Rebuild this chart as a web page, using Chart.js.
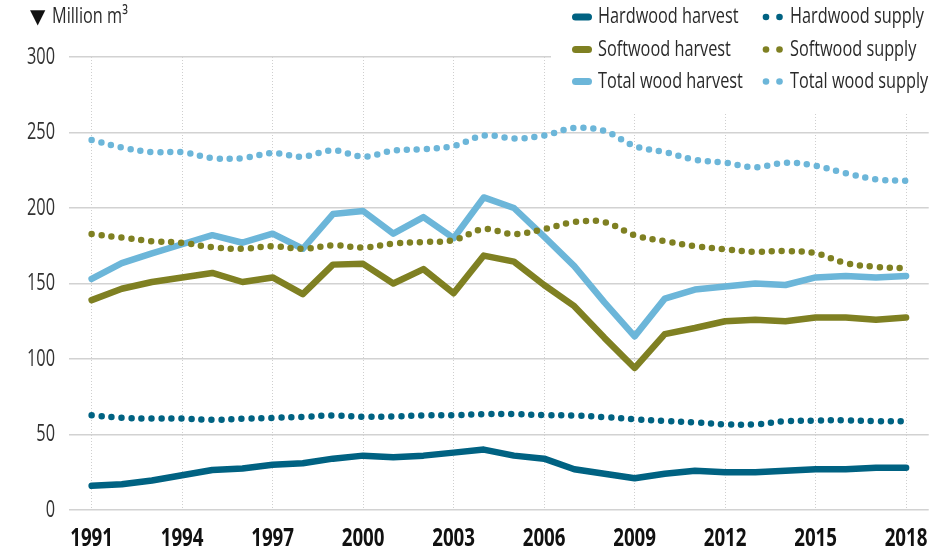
<!DOCTYPE html>
<html>
<head>
<meta charset="utf-8">
<script src="https://cdn.jsdelivr.net/npm/chart.js@4.4.1/dist/chart.umd.min.js"></script>
<style>
  html, body { margin: 0; padding: 0; background: #ffffff; }
  #wrap { width: 949px; height: 556px; position: relative; }
</style>
</head>
<body>
<div id="wrap"><canvas id="c" width="949" height="556"></canvas></div>
<script>
// ---- data ----
const years = [1991,1992,1993,1994,1995,1996,1997,1998,1999,2000,2001,2002,2003,2004,2005,2006,2007,2008,2009,2010,2011,2012,2013,2014,2015,2016,2017,2018];
const xTickYears = [1991,1994,1997,2000,2003,2006,2009,2012,2015,2018];
const yTickValues = [0,50,100,150,200,250,300];
const unitMarker = "▼";
const unitLabel = "Million m³";
const seriesLabels = ["Hardwood harvest","Hardwood supply","Softwood harvest","Softwood supply","Total wood harvest","Total wood supply"];

const hardwoodHarvest = [16,17,19.5,23,26.5,27.5,30,31,34,36,35,36,38,40,36,34,27,24,21,24,26,25,25,26,27,27,28,28];
const hardwoodSupply  = [62.8,61,60.6,60.6,59.7,60.4,61,61.7,62.6,61.7,62,62.6,62.8,63.5,63.5,62.8,62.6,61.5,60.1,59,58,56.7,56.7,58.8,59.2,59.4,58.8,58.8];
const softwoodHarvest = [139,146.5,151,154,157,151,154,143,162.5,163,150,159.5,143.5,168.5,164.5,149,135,114,94,116.5,120.5,125,126,125,127.5,127.5,126,127.5];
const softwoodSupply  = [182.7,180.4,178,177,174,173,174.7,173,175.3,173.8,176.4,177.5,178.7,186,182.7,186,190.7,190.7,182,178,174.7,172.7,171,171.5,170,163.5,161,160];
const totalHarvest    = [153,163.5,170,176,182,177,183,173,196,198,183,194,180,207,200,181,161.5,137.5,115,140,146,148,150,149,154,155,154,155];
const totalSupply     = [245,240,237,237,233,233,236.4,234,238.2,234,238,239,241,248,246,248,253,251,241,237,232,230,227,230,228,223,219,218];

// ---- styling ----
const FONT = '"Open Sans", "Noto Sans", sans-serif';
const C_HARD = '#006282';
const C_SOFT = '#7f8022';
const C_TOTAL = '#6cb6d9';

// Condensed look: squeeze text horizontally around its anchor point.
const squeezeBySize = { 24: 0.68, 25: 0.75, 22: 0.74 };
const origFillText = CanvasRenderingContext2D.prototype.fillText;
CanvasRenderingContext2D.prototype.fillText = function (text, x, y, maxWidth) {
  const m = /(\d+(?:\.\d+)?)px/.exec(this.font || '');
  const sx = m ? (squeezeBySize[Math.round(parseFloat(m[1]))] || 1) : 1;
  if (sx === 1) return maxWidth === undefined ? origFillText.call(this, text, x, y) : origFillText.call(this, text, x, y, maxWidth);
  this.save();
  this.translate(x, y);
  this.scale(sx, 1);
  origFillText.call(this, text, 0, 0);
  this.restore();
};

function pts(vals) { return years.map((y, i) => ({ x: y, y: vals[i] })); }

function harvestDs(label, vals, color) {
  return { label, data: pts(vals), borderColor: color, backgroundColor: color,
    borderWidth: 6.5, borderCapStyle: 'round', borderJoinStyle: 'round',
    pointRadius: 0, tension: 0, fill: false };
}
function supplyDs(label, vals, color) {
  return { label, data: pts(vals), borderColor: color, backgroundColor: color,
    borderWidth: 6.5, borderCapStyle: 'round', borderDash: [0, 10],
    pointRadius: 0, tension: 0.35, fill: false };
}

const legendPlugin = {
  id: 'customLegend',
  afterDraw(chart) {
    const ctx = chart.ctx;
    ctx.save();
    // white backing box behind the legend (covers grid lines there)
    ctx.fillStyle = '#ffffff';
    ctx.fillRect(551, 0, 949 - 551, 112);

    // unit label
    ctx.fillStyle = '#111111';
    ctx.textBaseline = 'middle';
    ctx.textAlign = 'left';
    ctx.font = '20px "DejaVu Sans", sans-serif';
    ctx.fillText(unitMarker, 30, 18);
    ctx.fillStyle = '#2a2a2a';
    ctx.font = '22px ' + FONT;
    ctx.fillText(unitLabel, 52, 17);

    const ds = chart.data.datasets;
    const rowsY = [17, 49.5, 81.5];
    for (let i = 0; i < ds.length; i++) {
      const row = Math.floor(i / 2), col = i % 2;
      const y = rowsY[row];
      const d = ds[i];
      ctx.strokeStyle = d.borderColor;
      ctx.fillStyle = d.borderColor;
      let textX;
      if (col === 0) {
        ctx.lineWidth = 7;
        ctx.lineCap = 'round';
        ctx.setLineDash([]);
        ctx.beginPath();
        ctx.moveTo(575.5, y);
        ctx.lineTo(588.5, y);
        ctx.stroke();
        textX = 598;
      } else {
        for (const cx of [766, 779.5]) {
          ctx.beginPath();
          ctx.arc(cx, y, 3.3, 0, Math.PI * 2);
          ctx.fill();
        }
        textX = 790;
      }
      ctx.fillStyle = '#2a2a2a';
      ctx.font = '22px ' + FONT;
      ctx.textBaseline = 'middle';
      ctx.textAlign = 'left';
      ctx.fillText(d.label, textX, y);
    }
    ctx.restore();
  }
};

new Chart(document.getElementById('c'), {
  type: 'line',
  data: {
    datasets: [
      harvestDs(seriesLabels[0], hardwoodHarvest, C_HARD),
      supplyDs(seriesLabels[1], hardwoodSupply, C_HARD),
      harvestDs(seriesLabels[2], softwoodHarvest, C_SOFT),
      supplyDs(seriesLabels[3], softwoodSupply, C_SOFT),
      harvestDs(seriesLabels[4], totalHarvest, C_TOTAL),
      supplyDs(seriesLabels[5], totalSupply, C_TOTAL)
    ]
  },
  options: {
    responsive: false,
    animation: false,
    devicePixelRatio: 1,
    layout: { padding: { top: 57, right: 12, left: 0, bottom: 0 } },
    plugins: { legend: { display: false }, tooltip: { enabled: false } },
    scales: {
      x: {
        type: 'linear',
        min: 1990.25,
        max: 2018.75,
        afterBuildTicks: (s) => { s.ticks = xTickYears.map(v => ({ value: v })); },
        afterFit: (s) => { s.height = 46; },
        ticks: {
          autoSkip: false, maxRotation: 0, padding: 14,
          color: '#111111',
          font: { family: FONT, size: 25, weight: 'bold' },
          callback: (v) => String(v)
        },
        grid: { color: '#cfcfcf', lineWidth: 1, drawTicks: false },
        border: { display: false, dash: [1, 2] }
      },
      y: {
        min: 0, max: 300,
        afterBuildTicks: (s) => { s.ticks = yTickValues.map(v => ({ value: v })); },
        afterFit: (s) => { s.width = 69; },
        ticks: {
          padding: 14, color: '#333333',
          font: { family: FONT, size: 24 },
          callback: (v) => String(v)
        },
        grid: { color: '#d2d2d2', lineWidth: 1.5, drawTicks: false },
        border: { display: false }
      }
    }
  },
  plugins: [legendPlugin]
});
</script>
</body>
</html>
